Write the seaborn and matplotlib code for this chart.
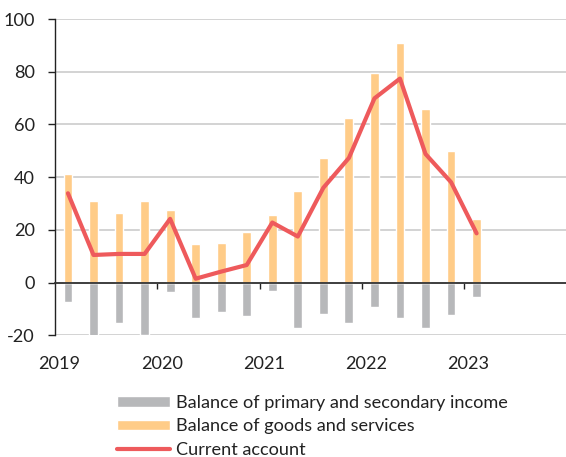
import matplotlib
matplotlib.use("Agg")
import matplotlib.pyplot as plt
import seaborn as sns
import numpy as np
import pandas as pd

quarters = ["2019Q1", "2019Q2", "2019Q3", "2019Q4",
            "2020Q1", "2020Q2", "2020Q3", "2020Q4",
            "2021Q1", "2021Q2", "2021Q3", "2021Q4",
            "2022Q1", "2022Q2", "2022Q3", "2022Q4",
            "2023Q1"]
goods_services = [41.2, 31.0, 26.4, 30.9, 27.7, 14.6, 15.1, 19.3, 25.7, 34.9,
                  47.3, 62.5, 79.4, 90.8, 65.9, 49.9, 24.2]
primary_secondary = [-7.4, -20.2, -15.4, -19.8, -3.6, -13.3, -11.1, -12.7, -3.0,
                     -17.3, -11.8, -15.2, -9.3, -13.3, -17.2, -12.4, -5.3]
current_account = [33.9, 10.5, 10.9, 10.9, 24.2, 1.5, 4.2, 6.7, 22.8, 17.5,
                   36.0, 47.3, 69.9, 77.4, 48.8, 38.1, 18.7]
year_labels = ["2019", "2020", "2021", "2022", "2023"]
y_ticks = [-20, 0, 20, 40, 60, 80, 100]

df = pd.DataFrame({"quarter": quarters, "goods": goods_services,
                   "income": primary_secondary, "ca": current_account})

sns.set_style("white")
plt.rcParams["font.family"] = ["Lato", "DejaVu Sans"]
plt.rcParams["axes.unicode_minus"] = False
text_color = "#222222"
fs = 13.1

fig = plt.figure(figsize=(5.66, 4.57), dpi=100)
ax = fig.add_axes([0.0975, 0.2661, 0.9025, 0.6923])

c_gray = "#b7b8ba"
c_orange = "#ffcc88"
c_red = "#ee5a5c"

sns.barplot(data=df, x="quarter", y="income", color=c_gray, width=0.345,
            saturation=1, ax=ax, label="Balance of primary and secondary income", zorder=2)
sns.barplot(data=df, x="quarter", y="goods", color=c_orange, width=0.345,
            saturation=1, ax=ax, label="Balance of goods and services", zorder=2)
sns.lineplot(data=df, x="quarter", y="ca", color=c_red, lw=3, ax=ax,
             label="Current account", zorder=4, sort=False)

ax.set_xlim(-0.5, 19.5)
ax.set_ylim(-20, 100)
ax.set_xlabel("")
ax.set_ylabel("")

# gridlines
ax.set_yticks(y_ticks)
ax.yaxis.grid(True, color="#cccccc", lw=1.2, zorder=0)
ax.xaxis.grid(False)
ax.set_axisbelow(True)
ax.tick_params(axis="y", length=5, width=1, color="#222222", pad=9.5,
               labelsize=fs, labelcolor=text_color, left=True)

# x axis at zero with year boundary ticks
ax.spines["bottom"].set_position(("data", 0))
ax.spines["bottom"].set_color("#333333")
ax.spines["bottom"].set_linewidth(1.3)
ax.spines["bottom"].set_zorder(3)
ax.spines["top"].set_visible(False)
ax.spines["right"].set_visible(False)
ax.spines["left"].set_color("#222222")
ax.spines["left"].set_linewidth(1)
ax.set_xticks([3.5, 7.5, 11.5, 15.5])
ax.set_xticklabels([])
ax.tick_params(axis="x", bottom=True, length=4, width=1, color="#222222", direction="out")

# year labels at the bottom
sec = ax.secondary_xaxis(0)
sec.set_xticks([4 * i - 0.33 for i in range(len(year_labels))])
sec.set_xticklabels(year_labels)
sec.tick_params(length=0, pad=14.5, labelsize=fs, labelcolor=text_color)
sec.spines["bottom"].set_visible(False)

# legend
ax.get_legend().remove()
h, l = ax.get_legend_handles_labels()
order = ["Balance of primary and secondary income", "Balance of goods and services", "Current account"]
hs = [h[l.index(o)] for o in order]
leg = fig.legend(hs, order, loc="upper left", bbox_to_anchor=(0.2067, 0.1365),
                 frameon=False, fontsize=fs, handlelength=2.9, handleheight=0.55,
                 handletextpad=0.33, labelspacing=0.43, borderpad=0, borderaxespad=0)
for t in leg.get_texts():
    t.set_color(text_color)

fig.savefig("out.png", dpi=100)
